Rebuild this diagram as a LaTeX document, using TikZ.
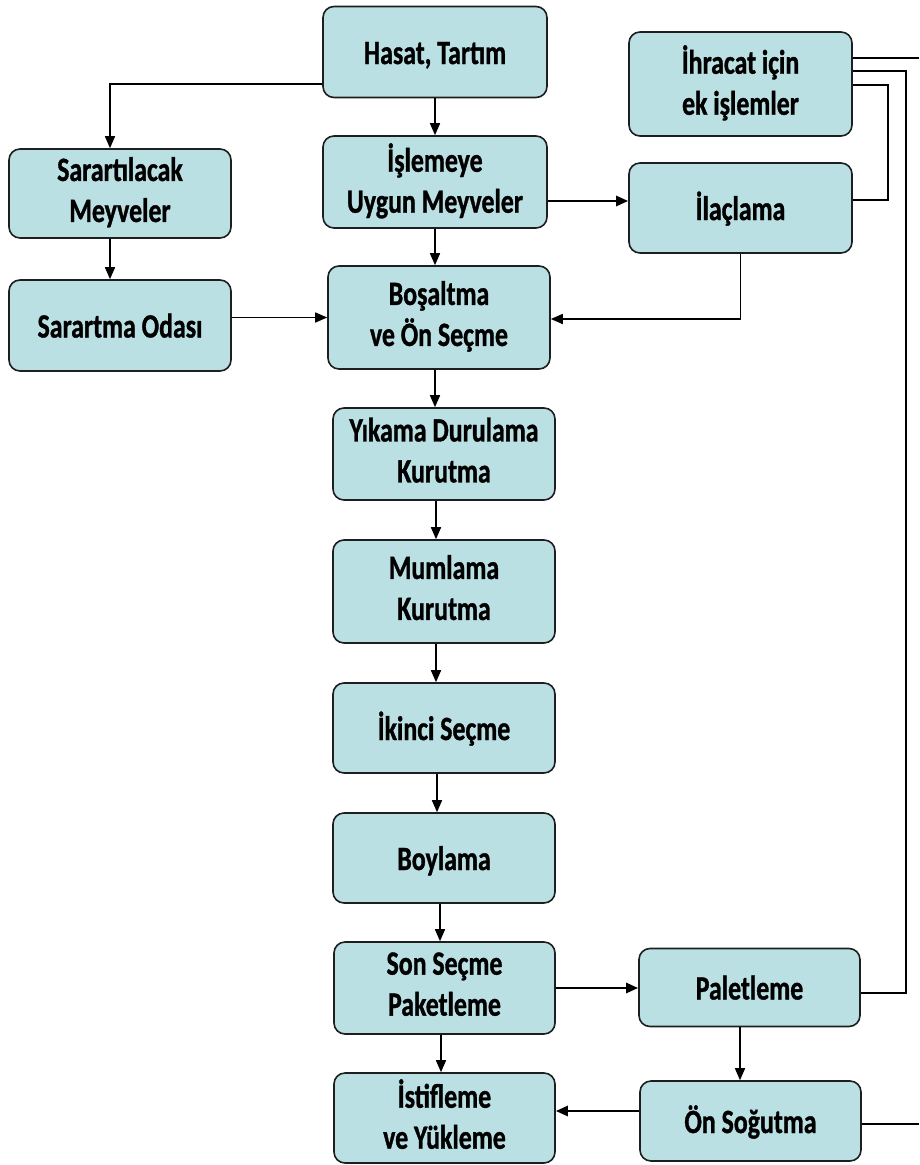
\documentclass[tikz,border=0pt]{standalone}
\usepackage{fontspec}
\setmainfont{Carlito}[FakeStretch=0.76, BoldFeatures={FakeBold=1}]
\usetikzlibrary{arrows.meta}

\definecolor{boxfill}{HTML}{BAE0E3}
\definecolor{boxline}{HTML}{1E1E1E}

\tikzset{
  stepbox/.style={draw=boxline, line width=1.6pt, fill=boxfill, rounded corners=11pt,
    align=center, inner sep=2pt,
    font=\fontsize{34}{41}\selectfont\bfseries,
    execute at begin node={\rule{0pt}{32pt}},
    execute at end node={\rule[-8pt]{0pt}{8pt}}},
  link/.style={draw=black, line width=1.5pt},
  arr/.style={link, -{Triangle[length=12pt,width=10pt]}},
  arrthick/.style={draw=black, line width=2.6pt, -{Triangle[length=12pt,width=10pt]}},
}

\begin{document}
\begin{tikzpicture}[x=1pt, y=-1pt]
\useasboundingbox (0,0) rectangle (919,1165);

% main column
\node[stepbox, minimum width=224pt, minimum height=91pt]  (hasat)   at (435,52)     {Hasat, Tartım};
\node[stepbox, minimum width=224pt, minimum height=92pt]  (isleme)  at (435,182)    {İşlemeye\\Uygun Meyveler};
\node[stepbox, minimum width=222pt, minimum height=103pt] (bosalt)  at (439,317.5)  {Boşaltma\\ve Ön Seçme};
\node[stepbox, minimum width=222pt, minimum height=92pt]  (yikama)  at (444,454)    {Yıkama Durulama\\Kurutma};
\node[stepbox, minimum width=222pt, minimum height=103pt] (mumlama) at (444,591.5)  {Mumlama\\Kurutma};
\node[stepbox, minimum width=222pt, minimum height=90pt]  (ikinci)  at (444,728)    {İkinci Seçme};
\node[stepbox, minimum width=222pt, minimum height=90pt]  (boylama) at (444,858)    {Boylama};
\node[stepbox, minimum width=221pt, minimum height=92pt]  (sonsec)  at (444.5,988)  {Son Seçme\\Paketleme};
\node[stepbox, minimum width=221pt, minimum height=90pt]  (istif)   at (444.5,1118) {İstifleme\\ve Yükleme};

% left column
\node[stepbox, minimum width=222pt, minimum height=89pt]  (sararti)  at (120,193.5) {Sarartılacak\\Meyveler};
\node[stepbox, minimum width=222pt, minimum height=91pt]  (sarartma) at (120,325.5) {Sarartma Odası};

% right column
\node[stepbox, minimum width=223pt, minimum height=104pt] (ihracat) at (740.5,84)    {İhracat için\\ek işlemler};
\node[stepbox, minimum width=223pt, minimum height=90pt]  (ilac)    at (740.5,208)   {İlaçlama};
\node[stepbox, minimum width=221pt, minimum height=78pt]  (palet)   at (749.5,987.5) {Paletleme};
\node[stepbox, minimum width=221pt, minimum height=80pt]  (onsog)   at (750.5,1121)  {Ön Soğutma};

% flow through the main column
\draw[arr] (hasat.south) -- (hasat.south |- isleme.north);
\draw[arr] (isleme.south) -- (isleme.south |- bosalt.north);
\draw[arr] ([xshift=-4pt]bosalt.south) -- ([xshift=-4pt]bosalt.south |- yikama.north);
\draw[arr] ([xshift=-8pt]yikama.south) -- ([xshift=-8pt]yikama.south |- mumlama.north);
\draw[arr] ([xshift=-8pt]mumlama.south) -- ([xshift=-8pt]mumlama.south |- ikinci.north);
\draw[arr] ([xshift=-7pt]ikinci.south) -- ([xshift=-7pt]ikinci.south |- boylama.north);
\draw[arr] ([xshift=-4pt]boylama.south) -- ([xshift=-4pt]boylama.south |- sonsec.north);
\draw[arr] ([xshift=-3.5pt]sonsec.south) -- ([xshift=-3.5pt]sonsec.south |- istif.north);

% ripening branch
\draw[arr] ([yshift=-32pt]hasat.west) -| ([xshift=-10pt]sararti.north);
\draw[arr] ([xshift=-10pt]sararti.south) -- ([xshift=-10pt]sarartma.north);
\draw[arr] (sarartma.east |- bosalt.west) -- (bosalt.west);

% spraying branch
\draw[arrthick] ([yshift=-19pt]isleme.east) -- ([yshift=-19pt]isleme.east -| ilac.west);
\draw[arr] (ilac.south) |- ([yshift=-1.5pt]bosalt.east);

% palletising and pre-cooling
\draw[arrthick] (sonsec.east) -- (sonsec.east -| palet.west);
\draw[arr] ([xshift=-9.5pt]palet.south) -- ([xshift=-9.5pt]palet.south |- onsog.north);
\draw[arrthick] ([yshift=10pt]onsog.west) -- ([yshift=10pt]onsog.west -| istif.east);

% export lines on the right
\coordinate (ihTop)  at ([yshift=26pt]ihracat.east);
\coordinate (ihMid)  at ([yshift=13pt]ihracat.east);
\coordinate (ihLow)  at ([yshift=-1pt]ihracat.east);
\coordinate (ilR)    at ([yshift=8pt]ilac.east);
\coordinate (palR)   at ([yshift=-5.5pt]palet.east);
\coordinate (osR)    at ([yshift=-3pt]onsog.east);
\coordinate (edgeTop) at (919,58);
\coordinate (edgeBot) at (919,1124);
\coordinate (bendA)  at (906,71);
\coordinate (bendB)  at (888,85);

\draw[link] (ihTop) -- (edgeTop);
\draw[link] (palR) -| (bendA) -- (ihMid);
\draw[link] (ilR) -| (bendB) -- (ihLow);
\draw[link] (osR) -- (edgeBot);
\end{tikzpicture}
\end{document}
